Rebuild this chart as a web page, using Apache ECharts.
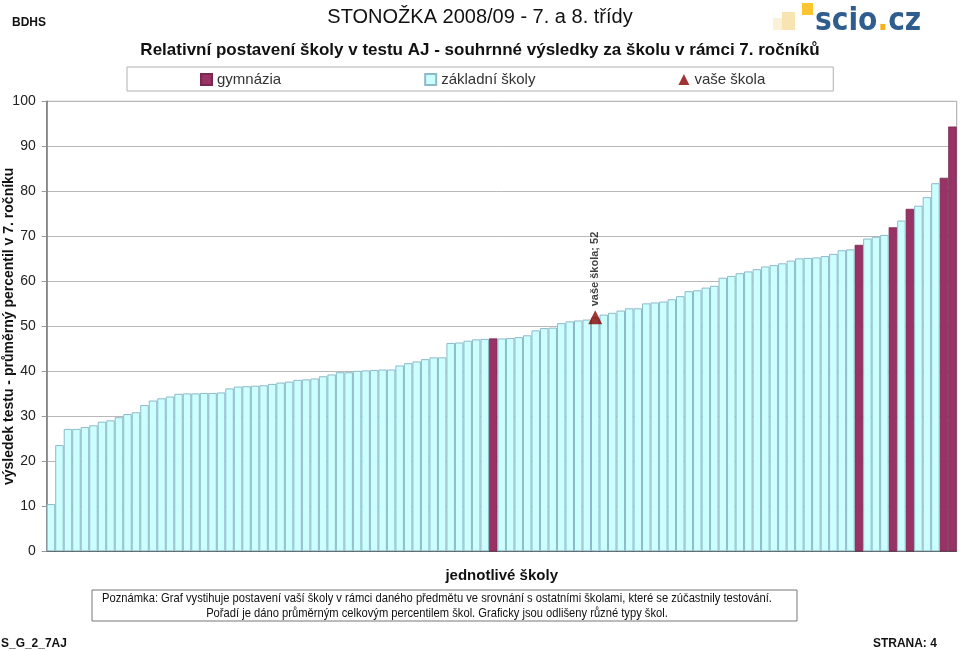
<!DOCTYPE html>
<html>
<head>
<meta charset="utf-8">
<script src="https://cdn.jsdelivr.net/npm/echarts@6/dist/echarts.min.js"></script>
<style>
html,body{margin:0;padding:0;background:#fff;}
#chart{width:960px;height:651px;}
</style>
</head>
<body>
<div id="chart"></div>
<script>
// ---- data ----
const schoolScores = [
  10.5, 23.6, 27.2, 27.2, 27.6, 28.0, 28.8, 29.1, 29.8, 30.5,
  30.9, 32.5, 33.5, 34.0, 34.4, 35.0, 35.1, 35.1, 35.2, 35.2,
  35.3, 36.2, 36.6, 36.7, 36.8, 36.9, 37.2, 37.5, 37.7, 38.1,
  38.2, 38.4, 38.9, 39.3, 39.8, 39.8, 40.1, 40.2, 40.3, 40.4,
  40.4, 41.3, 41.8, 42.2, 42.7, 43.1, 43.1, 46.3, 46.4, 46.8,
  47.1, 47.2, 47.3, 47.3, 47.4, 47.6, 48.0, 49.1, 49.6, 49.7,
  50.7, 51.1, 51.3, 51.5, 52.0, 52.6, 53.0, 53.5, 54.0, 54.0,
  55.1, 55.3, 55.5, 56.0, 56.7, 57.8, 58.0, 58.6, 59.0, 60.8,
  61.2, 61.8, 62.2, 62.7, 63.3, 63.6, 64.0, 64.6, 65.1, 65.2,
  65.3, 65.6, 66.1, 66.9, 67.1, 68.1, 69.5, 69.9, 70.3, 72.0,
  73.5, 76.1, 76.8, 78.7, 81.8, 83.0, 94.4
];
const gymnaziumIndices = [52, 95, 99, 101, 105, 106];
const ownSchoolIndex = 64;
const ownSchoolValue = 52;
const yTicks = [0, 10, 20, 30, 40, 50, 60, 70, 80, 90, 100];

const seriesNames = ['gymnázia', 'základní školy', 'vaše škola'];

// ---- build ----
const categories = schoolScores.map((_, i) => String(i + 1));
const gymData = schoolScores.map((v, i) => gymnaziumIndices.includes(i) ? v : null);
const zsData = schoolScores.map((v, i) => gymnaziumIndices.includes(i) ? null : v);
const ownData = schoolScores.map((v, i) => i === ownSchoolIndex ? ownSchoolValue : null);

const FONT = '"Liberation Sans", Arial, sans-serif';
const chart = echarts.init(document.getElementById('chart'));

chart.setOption({
  animation: false,
  backgroundColor: '#ffffff',
  textStyle: { fontFamily: FONT },
  grid: {
    left: 46.7, right: 3.3, top: 101.3, bottom: 99.7,
    containLabel: false, outerBoundsMode: 'none',
    show: true, borderColor: '#a6a6a6', borderWidth: 1
  },
  legend: {
    data: [
      { name: seriesNames[0], icon: 'rect' },
      { name: seriesNames[1], icon: 'rect' },
      { name: seriesNames[2] }
    ],
    left: 127, top: 67,
    padding: [5, 68, 4, 73],
    borderColor: '#b0b0b0', borderWidth: 1,
    itemWidth: 11, itemHeight: 11, itemGap: 143,
    textStyle: { fontSize: 15, color: '#333', fontFamily: FONT }
  },
  xAxis: {
    type: 'category',
    data: categories,
    name: 'jednotlivé školy',
    nameLocation: 'middle',
    nameGap: 17,
    nameMoveOverlap: false,
    nameTextStyle: { fontSize: 15, fontWeight: 'bold', color: '#111', fontFamily: FONT },
    axisLine: { lineStyle: { color: '#555', width: 1 } },
    axisTick: { show: false },
    axisLabel: { show: false },
    splitLine: { show: false }
  },
  yAxis: {
    type: 'value',
    min: yTicks[0], max: yTicks[yTicks.length - 1], interval: 10,
    name: 'výsledek testu - průměrný percentil v 7. ročníku',
    nameLocation: 'middle',
    nameGap: 31,
    nameMoveOverlap: false,
    nameTextStyle: { fontSize: 14, fontWeight: 'bold', color: '#111', fontFamily: FONT },
    axisLine: { show: true, lineStyle: { color: '#777', width: 1.5 } },
    axisTick: { show: true, length: 5, lineStyle: { color: '#999' } },
    axisLabel: { fontSize: 14, color: '#222', margin: 11, fontFamily: FONT },
    splitLine: { lineStyle: { color: '#b8b8b8', width: 1 } }
  },
  series: [
    {
      name: seriesNames[0], type: 'bar', data: gymData,
      barGap: '-100%', barCategoryGap: 0,
      itemStyle: { color: '#993366', borderColor: '#7a2850', borderWidth: 0.8 }
    },
    {
      name: seriesNames[1], type: 'bar', data: zsData,
      barGap: '-100%', barCategoryGap: 0,
      itemStyle: { color: '#ccffff', borderColor: '#8db9c9', borderWidth: 1 }
    },
    {
      name: seriesNames[2], type: 'scatter', data: ownData,
      symbol: 'triangle', symbolSize: 14,
      itemStyle: { color: '#8b0000' },
      z: 5,
      label: {
        show: true, position: 'top', distance: 4,
        rotate: 90, align: 'left', verticalAlign: 'middle',
        fontSize: 11, fontWeight: 'bold', color: '#111', fontFamily: FONT,
        formatter: p => seriesNames[2] + '; ' + p.value
      }
    }
  ],
  graphic: [
    { type: 'text', left: 12, top: 17, style: { text: 'BDHS', font: 'bold 12px ' + FONT, fill: '#111' } },
    { type: 'text', left: 'center', top: 7, style: { text: 'STONOŽKA 2008/09 - 7. a 8. třídy', font: '20px ' + FONT, fill: '#111' } },
    { type: 'text', left: 'center', top: 42, style: { text: 'Relativní postavení školy v testu AJ - souhrnné výsledky za školu v rámci 7. ročníků', font: 'bold 17px ' + FONT, fill: '#111' } },
    // logo
    { type: 'rect', shape: { x: 773, y: 18, width: 9, height: 12 }, style: { fill: '#fbf1d8' } },
    { type: 'rect', shape: { x: 782, y: 12, width: 13, height: 18 }, style: { fill: '#f8e4b0' } },
    { type: 'rect', shape: { x: 802, y: 3, width: 11, height: 12 }, style: { fill: '#fbc531' } },
    { type: 'text', x: 815, y: 38, scaleX: 0.88, style: {
        text: '{a|scio}{b|.}{a|cz}',
        textVerticalAlign: 'bottom',
        rich: {
          a: { font: 'bold 32px "DejaVu Sans", sans-serif', fill: '#2f5e8e' },
          b: { font: 'bold 32px "DejaVu Sans", sans-serif', fill: '#f6b21b' }
        }
    } },
    // note box
    { type: 'rect', shape: { x: 92, y: 590, width: 705, height: 31 }, style: { fill: '#fff', stroke: '#777', lineWidth: 1 } },
    { type: 'text', x: 437, y: 591, scaleX: 0.86, style: {
        text: 'Poznámka: Graf vystihuje postavení vaší školy v rámci daného předmětu ve srovnání s ostatními školami, které se zúčastnily testování.\nPořadí je dáno průměrným celkovým percentilem škol. Graficky jsou odlišeny různé typy škol.',
        font: '13px "Liberation Sans", sans-serif', fill: '#111',
        textAlign: 'center', lineHeight: 15
    } },
    { type: 'text', x: 1, y: 637, scaleX: 0.92, style: { text: 'S_G_2_7AJ', font: 'bold 13px ' + FONT, fill: '#111' } },
    { type: 'text', x: 873, y: 637, scaleX: 0.92, style: { text: 'STRANA: 4', font: 'bold 13px ' + FONT, fill: '#111' } }
  ]
});
</script>
</body>
</html>
